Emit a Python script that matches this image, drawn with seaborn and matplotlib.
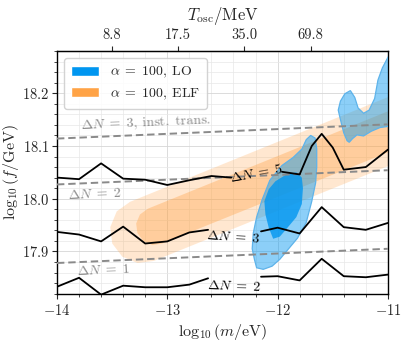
import numpy as np
import pandas as pd
import matplotlib
matplotlib.use("Agg")
import matplotlib.pyplot as plt
import seaborn as sns
from matplotlib.patches import Patch

# ---- data ----
# black Delta N curves (each split in two pieces around its inline label)
dn5_left_x = [-14.0, -13.8, -13.6, -13.4, -13.2, -13.0, -12.8, -12.6, -12.42]
dn5_left_y = [18.040, 18.037, 18.067, 18.038, 18.036, 18.026, 18.035, 18.043, 18.040]
dn5_right_x = [-11.96, -11.80, -11.69, -11.60, -11.50, -11.40, -11.20, -11.0]
dn5_right_y = [18.051, 18.046, 18.100, 18.123, 18.097, 18.055, 18.060, 18.093]

dn3_left_x = [-14.0, -13.8, -13.6, -13.4, -13.2, -13.0, -12.8, -12.63]
dn3_left_y = [17.937, 17.932, 17.919, 17.947, 17.915, 17.919, 17.936, 17.941]
dn3_right_x = [-12.15, -12.0, -11.8, -11.6, -11.4, -11.2, -11.0]
dn3_right_y = [17.938, 17.945, 17.934, 17.984, 17.946, 17.941, 17.954]

dn2_left_x = [-14.0, -13.8, -13.6, -13.4, -13.2, -13.0, -12.8, -12.63]
dn2_left_y = [17.833, 17.850, 17.818, 17.835, 17.832, 17.832, 17.837, 17.849]
dn2_right_x = [-12.15, -12.0, -11.8, -11.6, -11.4, -11.2, -11.0]
dn2_right_y = [17.852, 17.853, 17.845, 17.886, 17.853, 17.851, 17.856]

# grey dashed reference lines
dash_x = [-14.0, -11.0]
dash_inst3_y = [18.114, 18.141]
dash_dn2_y = [18.027, 18.054]
dash_dn1_y = [17.878, 17.905]

# ELF credible regions (outer = light, inner = dark)
elf_outer_x = [-10.89, -13.338, -13.458, -13.517, -13.499, -13.408, -13.269, -13.121, -10.89]
elf_outer_y = [18.202, 17.994, 17.976, 17.946, 17.915, 17.890, 17.878, 17.882, 18.071]
elf_inner_x = [-10.89, -13.176, -13.248, -13.282, -13.271, -13.218, -13.135, -13.047, -10.89]
elf_inner_y = [18.175, 17.981, 17.970, 17.953, 17.935, 17.920, 17.912, 17.915, 18.097]

# LO credible regions
lo_outer_x = [-12.19, -12.21, -12.23, -12.22, -12.19, -12.14, -12.07, -11.96, -11.86, -11.78,
              -11.74, -11.70, -11.66, -11.645, -11.645, -11.655, -11.69, -11.74, -11.82, -11.90,
              -11.98, -12.05, -12.13]
lo_outer_y = [17.869, 17.885, 17.905, 17.935, 17.965, 17.998, 18.035, 18.063, 18.078, 18.094,
              18.112, 18.120, 18.115, 18.095, 18.060, 18.030, 17.995, 17.955, 17.925, 17.905,
              17.885, 17.872, 17.866]
lo_inner_x = [-12.04, -12.08, -12.11, -12.12, -12.08, -12.02, -11.92, -11.83, -11.78, -11.77,
              -11.78, -11.83, -11.91, -11.98]
lo_inner_y = [17.924, 17.945, 17.970, 17.995, 18.018, 18.033, 18.046, 18.050, 18.040, 18.020,
              17.990, 17.965, 17.945, 17.928]
lo_blob_x = [-11.37, -11.40, -11.43, -11.45, -11.43, -11.39, -11.34, -11.30, -11.27, -11.22,
             -11.17, -11.12, -11.09, -11.05, -11.0, -10.95, -10.95, -11.0, -11.07, -11.15,
             -11.22, -11.28, -11.32, -11.35]
lo_blob_y = [18.110, 18.125, 18.150, 18.168, 18.185, 18.199, 18.205, 18.192, 18.172, 18.162,
             18.168, 18.190, 18.225, 18.248, 18.268, 18.285, 18.140, 18.137, 18.135, 18.128,
             18.119, 18.121, 18.114, 18.107]

# top axis: oscillation temperature
t_osc_ticks = [8.8, 17.5, 35.0, 69.8]

blue = "#0096f0"
orange = "#ffa346"
grey = "#8a8a8a"

sns.set_style("ticks")
plt.rcParams["font.family"] = "serif"
plt.rcParams["font.serif"] = ["cmr10", "DejaVu Serif"]
plt.rcParams["mathtext.fontset"] = "cm"
plt.rcParams["axes.formatter.use_mathtext"] = True
plt.rcParams["axes.unicode_minus"] = True

fig = plt.figure(figsize=(4.07, 3.45), dpi=100)
ax = fig.add_axes([0.140, 0.149, 0.813, 0.703])

ax.set_axisbelow(True)
ax.grid(which="major", color="#d6d6d6", lw=0.6)
ax.grid(which="minor", color="#e8e8e8", lw=0.5)

# ELF regions
ax.fill(elf_outer_x, elf_outer_y, color=orange, alpha=0.25, lw=0, zorder=2)
ax.fill(elf_inner_x, elf_inner_y, color=orange, alpha=0.37, lw=0, zorder=2)

# LO regions
ax.fill(lo_outer_x, lo_outer_y, facecolor=blue, alpha=0.45, lw=0, zorder=3)
ax.fill(lo_blob_x, lo_blob_y, facecolor=blue, alpha=0.45, lw=0, zorder=3)
ax.fill(lo_inner_x, lo_inner_y, facecolor=blue, alpha=0.8, lw=0, zorder=3)
ax.fill(lo_outer_x, lo_outer_y, facecolor="none", edgecolor="#5eb3ea", lw=0.9, zorder=3)
ax.fill(lo_blob_x, lo_blob_y, facecolor="none", edgecolor="#5eb3ea", lw=0.9, zorder=3)

# dashed lines
for yy in [dash_inst3_y, dash_dn2_y, dash_dn1_y]:
    sns.lineplot(x=dash_x, y=yy, ax=ax, color=grey, lw=1.4, zorder=4)
for ln in ax.lines:
    ln.set_linestyle((0, (3.8, 2.0)))

# black Delta N curves
segs = []
for name, xs, ys in [("5a", dn5_left_x, dn5_left_y), ("5b", dn5_right_x, dn5_right_y),
                     ("3a", dn3_left_x, dn3_left_y), ("3b", dn3_right_x, dn3_right_y),
                     ("2a", dn2_left_x, dn2_left_y), ("2b", dn2_right_x, dn2_right_y)]:
    segs.append(pd.DataFrame({"logm": xs, "logf": ys, "seg": name}))
df = pd.concat(segs, ignore_index=True)
sns.lineplot(data=df, x="logm", y="logf", units="seg", estimator=None, sort=False,
             color="black", lw=1.3, ax=ax, zorder=5)

# labels
sp_eq = r"\;=\;"
ax.text(-13.79, 18.122, r"$\Delta N" + sp_eq + r"3,\; \mathrm{inst.\ trans.}$", color=grey,
        fontsize=10, rotation=2.5, ha="left", va="bottom")
ax.text(-13.66, 18.009, r"$\Delta N" + sp_eq + "2$", color=grey, fontsize=10, rotation=2.5,
        ha="center", va="center")
ax.text(-13.58, 17.864, r"$\Delta N" + sp_eq + "1$", color=grey, fontsize=10, rotation=2.5,
        ha="center", va="center")
ax.text(-12.19, 18.047, r"$\Delta N" + sp_eq + "5$", color="black", fontsize=10, rotation=10,
        ha="center", va="center", zorder=6)
ax.text(-12.40, 17.926, r"$\Delta N" + sp_eq + "3$", color="black", fontsize=10, rotation=-4,
        ha="center", va="center", zorder=6)
ax.text(-12.40, 17.834, r"$\Delta N" + sp_eq + "2$", color="black", fontsize=10, rotation=-2,
        ha="center", va="center", zorder=6)

ax.set_xlim(-14, -11)
ax.set_ylim(17.82, 18.28)
ax.set_xticks([-14, -13, -12, -11])
ax.set_yticks([17.9, 18.0, 18.1, 18.2])
ax.xaxis.set_minor_locator(matplotlib.ticker.MultipleLocator(0.2))
ax.yaxis.set_minor_locator(matplotlib.ticker.MultipleLocator(0.02))
ax.tick_params(which="major", labelsize=10.5, length=3.5, width=0.8, pad=2)
ax.tick_params(axis="x", which="major", pad=3.5)
ax.tick_params(which="minor", length=2, width=0.6)
ax.set_xlabel(r"$\log_{10}(m/\mathrm{eV})$", fontsize=11.5, labelpad=3)
ax.set_ylabel(r"$\log_{10}(f/\mathrm{GeV})$", fontsize=11.5, labelpad=1)
for sp in ax.spines.values():
    sp.set_linewidth(1.0)
    sp.set_color("black")

# top axis
def m_to_t(lm):
    return 8.8 * 10 ** ((np.asarray(lm) + 13.5) / 2.0)

def t_to_m(t):
    return -13.5 + 2.0 * np.log10(np.clip(np.asarray(t, dtype=float), 1e-6, None) / 8.8)

sec = ax.secondary_xaxis("top", functions=(m_to_t, t_to_m))
sec.set_xticks(t_osc_ticks, labels=[f"{t:.1f}" for t in t_osc_ticks])
sec.tick_params(labelsize=10.5, length=3.5, width=0.8, pad=3)
sec.xaxis.set_minor_locator(matplotlib.ticker.NullLocator())
sec.set_xlabel(r"$T_{\rm osc}/\mathrm{MeV}$", fontsize=12, labelpad=6)

handles = [Patch(facecolor=blue, label=r"$\alpha" + sp_eq + r"100,\; \mathrm{LO}$"),
           Patch(facecolor=orange, label=r"$\alpha" + sp_eq + r"100,\; \mathrm{ELF}$")]
leg = ax.legend(handles=handles, loc="upper left", fontsize=10, frameon=True,
                fancybox=True, framealpha=0.85, edgecolor="#cccccc", handlelength=2.0,
                borderpad=0.5, labelspacing=0.45)
leg.set_zorder(10)

fig.savefig("out.png", dpi=100)
